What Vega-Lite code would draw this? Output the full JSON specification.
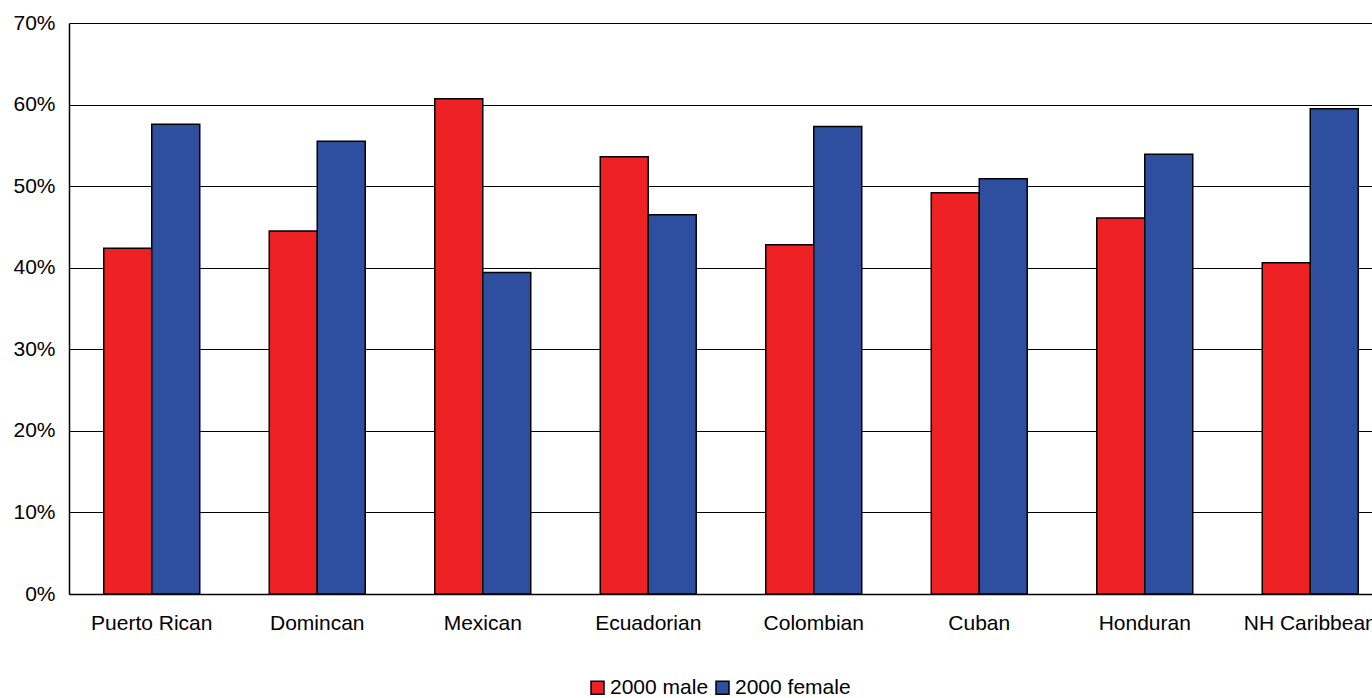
{
  "$schema": "https://vega.github.io/schema/vega-lite/v6.json",
  "autosize": {"type": "none"},
  "width": 1324,
  "height": 571,
  "padding": {"left": 69, "top": 23, "right": 0, "bottom": 104},
  "background": "white",
  "config": {
    "font": "Liberation Sans",
    "view": {"stroke": null},
    "axis": {"labelFont": "Liberation Sans", "labelFontSize": 21, "labelColor": "black"}
  },
  "data": {
    "values": [
      {"group": "Puerto Rican", "series": "2000 male", "value": 0.424},
      {"group": "Puerto Rican", "series": "2000 female", "value": 0.576},
      {"group": "Domincan", "series": "2000 male", "value": 0.445},
      {"group": "Domincan", "series": "2000 female", "value": 0.555},
      {"group": "Mexican", "series": "2000 male", "value": 0.607},
      {"group": "Mexican", "series": "2000 female", "value": 0.394},
      {"group": "Ecuadorian", "series": "2000 male", "value": 0.536},
      {"group": "Ecuadorian", "series": "2000 female", "value": 0.465},
      {"group": "Colombian", "series": "2000 male", "value": 0.428},
      {"group": "Colombian", "series": "2000 female", "value": 0.573},
      {"group": "Cuban", "series": "2000 male", "value": 0.492},
      {"group": "Cuban", "series": "2000 female", "value": 0.509},
      {"group": "Honduran", "series": "2000 male", "value": 0.461},
      {"group": "Honduran", "series": "2000 female", "value": 0.539},
      {"group": "NH Caribbean", "series": "2000 male", "value": 0.406},
      {"group": "NH Caribbean", "series": "2000 female", "value": 0.595}
    ]
  },
  "mark": {"type": "bar", "stroke": "black", "strokeWidth": 1.5},
  "encoding": {
    "x": {
      "field": "group",
      "type": "nominal",
      "sort": null,
      "scale": {"paddingInner": 0.42, "paddingOuter": 0.21},
      "axis": {
        "title": null,
        "labelAngle": 0,
        "ticks": false,
        "labelPadding": 18,
        "domainColor": "black",
        "domainWidth": 1.5,
        "grid": false
      }
    },
    "xOffset": {
      "field": "series",
      "type": "nominal",
      "sort": ["2000 male", "2000 female"],
      "scale": {"paddingInner": 0, "paddingOuter": 0}
    },
    "y": {
      "field": "value",
      "type": "quantitative",
      "scale": {"domain": [0, 0.7], "nice": false},
      "axis": {
        "title": null,
        "format": ".0%",
        "values": [0, 0.1, 0.2, 0.3, 0.4, 0.5, 0.6, 0.7],
        "ticks": false,
        "labelPadding": 14,
        "grid": true,
        "gridColor": "black",
        "gridOpacity": 1,
        "gridWidth": 1,
        "domainColor": "black",
        "domainWidth": 1.5
      }
    },
    "color": {
      "field": "series",
      "type": "nominal",
      "scale": {"domain": ["2000 male", "2000 female"], "range": ["#EE2224", "#2E4FA0"]},
      "legend": {
        "title": null,
        "orient": "none",
        "direction": "horizontal",
        "legendX": 518,
        "legendY": 654,
        "symbolType": "square",
        "symbolSize": 169,
        "symbolStrokeColor": "black",
        "symbolStrokeWidth": 1.5,
        "symbolOpacity": 1,
        "labelFont": "Liberation Sans",
        "labelFontSize": 21,
        "labelColor": "black",
        "labelOffset": 2,
        "columnPadding": 3
      }
    }
  }
}
